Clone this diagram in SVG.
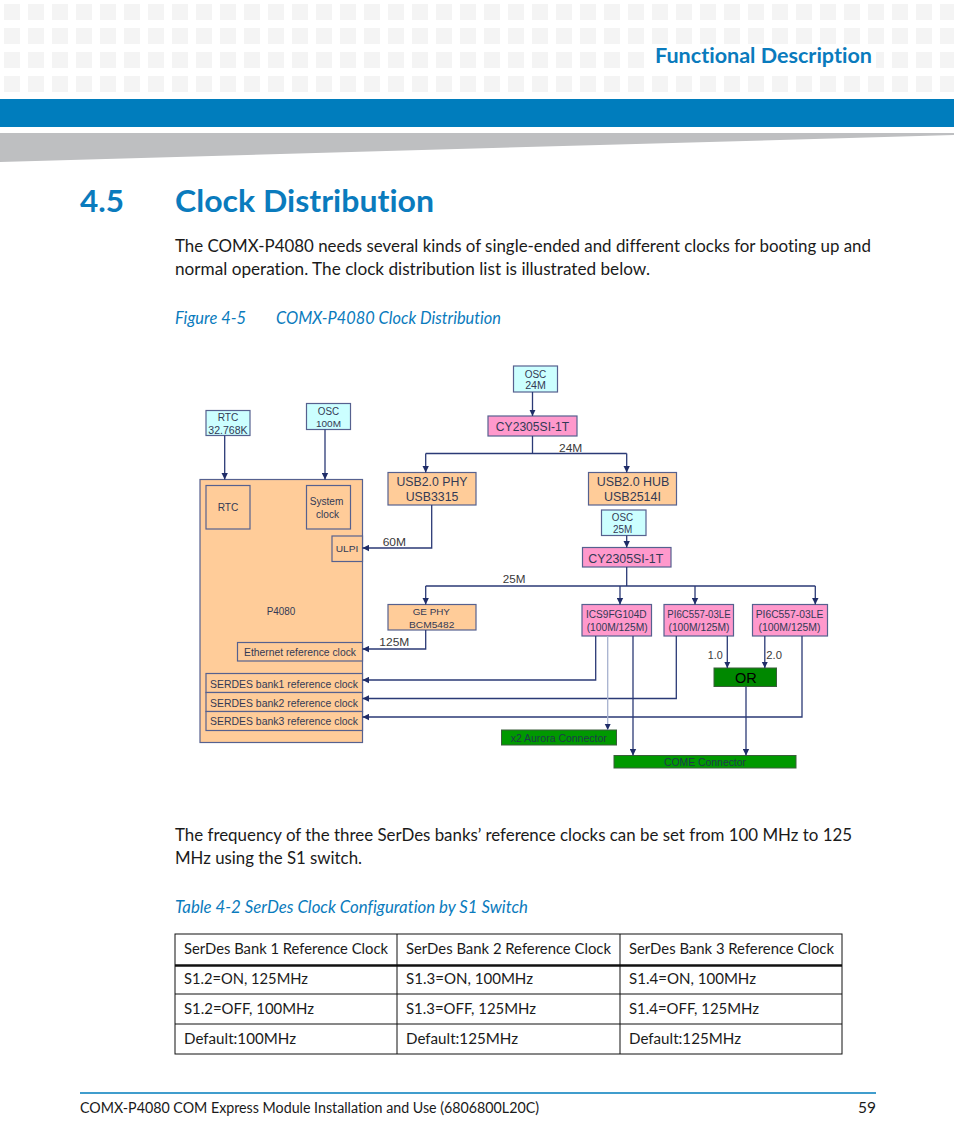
<svg xmlns="http://www.w3.org/2000/svg" width="954" height="1145" viewBox="0 0 954 1145">
<style>
.sq{fill:#f4f4f4}
.doc{font-family:Lato,"Noto Sans","Open Sans",sans-serif;fill:#1a1a1a;font-variant-ligatures:none;font-feature-settings:"liga" 0,"dlig" 0}
.blue{fill:#0a7bbd}
.box{stroke:#56618f;stroke-width:1.2}
.orange{fill:#ffcc99}
.pink{fill:#ff99cc}
.cyan{fill:#ccffff}
.green{fill:#009900;stroke:#3b5e3b;stroke-width:1}
.t{font-family:"Liberation Sans",Arial,sans-serif;fill:#333a55;text-anchor:middle}
.lbl{font-family:"Liberation Sans",Arial,sans-serif;fill:#3a3a3a}
.ln{fill:none;stroke:#2b3a76;stroke-width:1.3}
.ln2{fill:none;stroke:#a7b2cf;stroke-width:1.3}
.cell{fill:none;stroke:#111;stroke-width:1}
</style>
<defs>
<marker id="ah" markerWidth="7" markerHeight="7" refX="6.5" refY="3.5" orient="auto" markerUnits="userSpaceOnUse">
<path d="M0,0.3 L6.5,3.5 L0,6.7 z" fill="#1f2d68"/>
</marker>
<pattern id="sqp" x="4" y="4" width="24" height="24" patternUnits="userSpaceOnUse">
<rect width="16" height="16" class="sq"/>
</pattern>
</defs>
<rect width="954" height="1145" fill="#ffffff"/>
<!-- header -->
<rect x="0" y="0" width="954" height="94" fill="url(#sqp)"/>
<rect x="646" y="44" width="230" height="28" fill="#ffffff"/>
<text x="655" y="63" class="doc blue" font-size="21" font-weight="bold" textLength="217" lengthAdjust="spacingAndGlyphs" style="fill:#0a7bbd">Functional Description</text>
<rect x="0" y="99" width="954" height="28" fill="#007dbd"/>
<polygon points="0,133 954,133 954,135 0,162" fill="#bebfc1"/>
<!-- title -->
<text x="80" y="212" class="doc" font-size="31" font-weight="bold" style="fill:#0a7bbd" textLength="44" lengthAdjust="spacingAndGlyphs">4.5</text>
<text x="175" y="212" class="doc" font-size="31" font-weight="bold" style="fill:#0a7bbd" textLength="259" lengthAdjust="spacingAndGlyphs">Clock Distribution</text>
<text x="175" y="252" class="doc" font-size="17" textLength="696" lengthAdjust="spacingAndGlyphs">The COMX-P4080 needs several kinds of single-ended and different clocks for booting up and</text>
<text x="175" y="275" class="doc" font-size="17" textLength="475" lengthAdjust="spacingAndGlyphs">normal operation. The clock distribution list is illustrated below.</text>
<text x="175" y="324" class="doc" font-size="17" font-style="italic" style="fill:#0a7bbd" textLength="71" lengthAdjust="spacingAndGlyphs">Figure 4-5</text>
<text x="276" y="324" class="doc" font-size="17" font-style="italic" style="fill:#0a7bbd" textLength="225" lengthAdjust="spacingAndGlyphs">COMX-P4080 Clock Distribution</text>

<!-- diagram nodes -->
<g id="osc24"><rect x="513.5" y="366" width="44" height="26" class="box cyan"/><text x="535.5" y="377.5" class="t" font-size="10" textLength="21.7" lengthAdjust="spacingAndGlyphs">OSC</text><text x="535.5" y="389" class="t" font-size="10" textLength="20.7" lengthAdjust="spacingAndGlyphs">24M</text></g>
<g id="cy1"><rect x="488" y="416" width="89" height="20" class="box pink"/><text x="532.5" y="430.5" class="t" font-size="12" textLength="73.3" lengthAdjust="spacingAndGlyphs">CY2305SI-1T</text></g>
<g id="rtcosc"><rect x="206" y="410.5" width="44" height="25" class="box cyan"/><text x="228" y="420.5" class="t" font-size="10" textLength="20.7" lengthAdjust="spacingAndGlyphs">RTC</text><text x="228" y="433.5" class="t" font-size="10" textLength="39.3" lengthAdjust="spacingAndGlyphs">32.768K</text></g>
<g id="osc100"><rect x="306.5" y="403.5" width="44" height="26" class="box cyan"/><text x="328.5" y="414.5" class="t" font-size="10" textLength="21.3" lengthAdjust="spacingAndGlyphs">OSC</text><text x="328.5" y="426.5" class="t" font-size="9.5" textLength="25" lengthAdjust="spacingAndGlyphs">100M</text></g>
<g id="usbphy"><rect x="388" y="472.5" width="88" height="32.5" class="box orange"/><text x="432" y="485.5" class="t" font-size="12" textLength="71" lengthAdjust="spacingAndGlyphs">USB2.0 PHY</text><text x="432" y="500.5" class="t" font-size="12" textLength="52.7" lengthAdjust="spacingAndGlyphs">USB3315</text></g>
<g id="usbhub"><rect x="588.5" y="472.5" width="88" height="32.5" class="box orange"/><text x="633" y="485.5" class="t" font-size="12" textLength="72.7" lengthAdjust="spacingAndGlyphs">USB2.0 HUB</text><text x="632.5" y="500.5" class="t" font-size="12" textLength="57" lengthAdjust="spacingAndGlyphs">USB2514I</text></g>
<g id="osc25"><rect x="601.5" y="510" width="44.5" height="25.5" class="box cyan"/><text x="622.5" y="520.5" class="t" font-size="10" textLength="21.3" lengthAdjust="spacingAndGlyphs">OSC</text><text x="622.7" y="533" class="t" font-size="10" textLength="19.3" lengthAdjust="spacingAndGlyphs">25M</text></g>
<g id="cy2"><rect x="582.5" y="547.5" width="88.5" height="19.5" class="box pink"/><text x="625.8" y="562.5" class="t" font-size="12" textLength="75" lengthAdjust="spacingAndGlyphs">CY2305SI-1T</text></g>
<g id="gephy"><rect x="388" y="604.5" width="88" height="25.5" class="box orange"/><text x="431.3" y="614.5" class="t" font-size="9" textLength="37.3" lengthAdjust="spacingAndGlyphs">GE PHY</text><text x="431.7" y="627.5" class="t" font-size="9.5" textLength="45.3" lengthAdjust="spacingAndGlyphs">BCM5482</text></g>
<g id="ics"><rect x="582" y="604.5" width="69.5" height="31.5" class="box pink"/><text x="616.3" y="618" class="t" font-size="10" textLength="60.7" lengthAdjust="spacingAndGlyphs">ICS9FG104D</text><text x="617.2" y="631" class="t" font-size="10" textLength="61" lengthAdjust="spacingAndGlyphs">(100M/125M)</text></g>
<g id="pi1"><rect x="664" y="604.5" width="69.5" height="31.5" class="box pink"/><text x="699" y="618" class="t" font-size="10" textLength="63.3" lengthAdjust="spacingAndGlyphs">PI6C557-03LE</text><text x="699" y="631" class="t" font-size="10" textLength="61" lengthAdjust="spacingAndGlyphs">(100M/125M)</text></g>
<g id="pi2"><rect x="752.5" y="604.5" width="75" height="31.5" class="box pink"/><text x="789.5" y="618" class="t" font-size="10" textLength="67.7" lengthAdjust="spacingAndGlyphs">PI6C557-03LE</text><text x="789.5" y="631" class="t" font-size="10" textLength="62" lengthAdjust="spacingAndGlyphs">(100M/125M)</text></g>
<g id="or"><rect x="714" y="668" width="62.5" height="18.5" fill="#008800" stroke="#3b5e3b" stroke-width="1"/><text x="745.8" y="682.5" class="t" font-size="15" style="fill:#000" textLength="21.7" lengthAdjust="spacingAndGlyphs">OR</text></g>
<g id="aurora"><rect x="501.5" y="730" width="115" height="15" class="green"/><text x="558.7" y="741.5" class="t" font-size="10" style="fill:#1f3a4a" textLength="96" lengthAdjust="spacingAndGlyphs">x2 Aurora Connector</text></g>
<g id="come"><rect x="614" y="755.5" width="182" height="12.5" class="green"/><text x="705" y="765.5" class="t" font-size="10" style="fill:#1f3a4a" textLength="82" lengthAdjust="spacingAndGlyphs">COME Connector</text></g>
<g id="p4080">
<rect x="200" y="479.5" width="162.5" height="263" class="box orange"/>
<text x="281" y="614.5" class="t" font-size="10" textLength="28.7" lengthAdjust="spacingAndGlyphs">P4080</text>
<rect x="206" y="485.5" width="44" height="43.5" class="box orange"/><text x="228" y="511" class="t" font-size="10" textLength="20.7" lengthAdjust="spacingAndGlyphs">RTC</text>
<rect x="306.5" y="485.5" width="44" height="43.5" class="box orange"/><text x="326.5" y="505" class="t" font-size="10" textLength="33.7" lengthAdjust="spacingAndGlyphs">System</text><text x="327.5" y="518" class="t" font-size="10" textLength="23" lengthAdjust="spacingAndGlyphs">clock</text>
<rect x="332" y="536" width="30.5" height="25.5" class="box orange"/><text x="347" y="552" class="t" font-size="9.5" textLength="22.7" lengthAdjust="spacingAndGlyphs">ULPI</text>
<rect x="237.5" y="642.5" width="125" height="18.5" class="box orange"/><text x="300" y="655.5" class="t" font-size="10.5" textLength="112" lengthAdjust="spacingAndGlyphs">Ethernet reference clock</text>
<rect x="206" y="673.5" width="156.5" height="19" class="box orange"/><text x="284" y="687.5" class="t" font-size="10.5" textLength="148" lengthAdjust="spacingAndGlyphs">SERDES bank1 reference clock</text>
<rect x="206" y="692.5" width="156.5" height="19" class="box orange"/><text x="284" y="706.5" class="t" font-size="10.5" textLength="148" lengthAdjust="spacingAndGlyphs">SERDES bank2 reference clock</text>
<rect x="206" y="711.5" width="156.5" height="19" class="box orange"/><text x="284" y="725" class="t" font-size="10.5" textLength="148" lengthAdjust="spacingAndGlyphs">SERDES bank3 reference clock</text>
</g>

<!-- connectors -->
<g id="connectors">
<path d="M532.5,392 V416" class="ln" marker-end="url(#ah)"/>
<path d="M532.5,436 V453.5 M425.7,453.5 H626.7" class="ln"/>
<path d="M425.7,453.5 V472.5" class="ln" marker-end="url(#ah)"/>
<path d="M626.7,453.5 V472.5" class="ln" marker-end="url(#ah)"/>
<path d="M224.7,435.5 V479.5" class="ln" marker-end="url(#ah)"/>
<path d="M325,429.5 V479.5" class="ln" marker-end="url(#ah)"/>
<path d="M431.7,505 V548 H362.5" class="ln" marker-end="url(#ah)"/>
<path d="M626.7,535.5 V547.5" class="ln" marker-end="url(#ah)"/>
<path d="M626.7,567 V586 M425.7,586 H815.3" class="ln"/>
<path d="M425.7,586 V604.5" class="ln" marker-end="url(#ah)"/>
<path d="M620,586 V604.5" class="ln" marker-end="url(#ah)"/>
<path d="M695,586 V604.5" class="ln" marker-end="url(#ah)"/>
<path d="M815.3,586 V604.5" class="ln" marker-end="url(#ah)"/>
<path d="M425.7,630 V649 H362.5" class="ln" marker-end="url(#ah)"/>
<path d="M595.7,636 V680 H362.5" class="ln" marker-end="url(#ah)"/>
<path d="M676.3,636 V698.5 H362.5" class="ln" marker-end="url(#ah)"/>
<path d="M802,636 V717 H362.5" class="ln" marker-end="url(#ah)"/>
<path d="M607.7,636 V730" class="ln2" marker-end="url(#ah)"/>
<path d="M633,636 V755.5" class="ln" marker-end="url(#ah)"/>
<path d="M727.3,636 V668" class="ln" marker-end="url(#ah)"/>
<path d="M764.8,636 V668" class="ln" marker-end="url(#ah)"/>
<path d="M746,686.5 V755.5" class="ln" marker-end="url(#ah)"/>
<text x="559" y="451.5" class="lbl" font-size="11" textLength="23.3" lengthAdjust="spacingAndGlyphs">24M</text>
<text x="382.7" y="545.5" class="lbl" font-size="11" textLength="23.3" lengthAdjust="spacingAndGlyphs">60M</text>
<text x="502.7" y="583" class="lbl" font-size="11" textLength="22.7" lengthAdjust="spacingAndGlyphs">25M</text>
<text x="379.3" y="645.5" class="lbl" font-size="11" textLength="30" lengthAdjust="spacingAndGlyphs">125M</text>
<text x="707.7" y="658.5" class="lbl" font-size="10.5" textLength="15" lengthAdjust="spacingAndGlyphs">1.0</text>
<text x="766.3" y="658.5" class="lbl" font-size="10.5" textLength="15.7" lengthAdjust="spacingAndGlyphs">2.0</text>
</g>

<!-- second paragraph -->
<text x="175" y="841" class="doc" font-size="17" textLength="677" lengthAdjust="spacingAndGlyphs">The frequency of the three SerDes banks’ reference clocks can be set from 100 MHz to 125</text>
<text x="175" y="864" class="doc" font-size="17" textLength="187" lengthAdjust="spacingAndGlyphs">MHz using the S1 switch.</text>
<text x="175" y="913" class="doc" font-size="17" font-style="italic" style="fill:#0a7bbd" textLength="353" lengthAdjust="spacingAndGlyphs">Table 4-2 SerDes Clock Configuration by S1 Switch</text>

<!-- table -->
<g id="table">
<rect x="175" y="934" width="667" height="120" class="cell"/>
<line x1="175" y1="965.5" x2="842" y2="965.5" stroke="#111" stroke-width="2.5"/>
<line x1="175" y1="994" x2="842" y2="994" stroke="#111" stroke-width="1"/>
<line x1="175" y1="1024" x2="842" y2="1024" stroke="#111" stroke-width="1"/>
<line x1="397" y1="934" x2="397" y2="1054" stroke="#111" stroke-width="1"/>
<line x1="620" y1="934" x2="620" y2="1054" stroke="#111" stroke-width="1"/>
<text x="184" y="954" class="doc" font-size="15.5" textLength="204" lengthAdjust="spacingAndGlyphs">SerDes Bank 1 Reference Clock</text>
<text x="406" y="954" class="doc" font-size="15.5" textLength="205" lengthAdjust="spacingAndGlyphs">SerDes Bank 2 Reference Clock</text>
<text x="629" y="954" class="doc" font-size="15.5" textLength="205" lengthAdjust="spacingAndGlyphs">SerDes Bank 3 Reference Clock</text>
<text x="184" y="984" class="doc" font-size="15.5" textLength="124" lengthAdjust="spacingAndGlyphs">S1.2=ON, 125MHz</text>
<text x="406" y="984" class="doc" font-size="15.5" textLength="127" lengthAdjust="spacingAndGlyphs">S1.3=ON, 100MHz</text>
<text x="629" y="984" class="doc" font-size="15.5" textLength="127" lengthAdjust="spacingAndGlyphs">S1.4=ON, 100MHz</text>
<text x="184" y="1014" class="doc" font-size="15.5" textLength="130" lengthAdjust="spacingAndGlyphs">S1.2=OFF, 100MHz</text>
<text x="406" y="1014" class="doc" font-size="15.5" textLength="130" lengthAdjust="spacingAndGlyphs">S1.3=OFF, 125MHz</text>
<text x="629" y="1014" class="doc" font-size="15.5" textLength="130" lengthAdjust="spacingAndGlyphs">S1.4=OFF, 125MHz</text>
<text x="184" y="1044" class="doc" font-size="15.5" textLength="112" lengthAdjust="spacingAndGlyphs">Default:100MHz</text>
<text x="406" y="1044" class="doc" font-size="15.5" textLength="112" lengthAdjust="spacingAndGlyphs">Default:125MHz</text>
<text x="629" y="1044" class="doc" font-size="15.5" textLength="112" lengthAdjust="spacingAndGlyphs">Default:125MHz</text>
</g>

<!-- footer -->
<line x1="80" y1="1093" x2="876" y2="1093" stroke="#007dbd" stroke-width="1.5"/>
<text x="80" y="1113" class="doc" font-size="15.5" textLength="459" lengthAdjust="spacingAndGlyphs">COMX-P4080 COM Express Module Installation and Use (6806800L20C)</text>
<text x="876" y="1113" class="doc" font-size="15.5" text-anchor="end">59</text>
</svg>
